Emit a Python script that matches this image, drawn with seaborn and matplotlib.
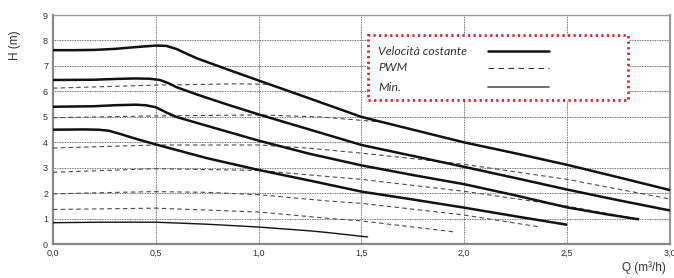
import matplotlib
matplotlib.use("Agg")
import matplotlib.pyplot as plt
import seaborn as sns
import pandas as pd
from matplotlib.patches import Rectangle
from matplotlib.lines import Line2D

# ---- data ----
q_c1 = [0.0, 0.1, 0.2, 0.3, 0.4, 0.5, 0.55, 0.6, 0.65, 0.7, 0.85, 1.0, 1.25, 1.5, 1.75, 2.0, 2.25, 2.5, 2.75, 3.0]
h_c1 = [7.62, 7.62, 7.63, 7.67, 7.74, 7.8, 7.79, 7.67, 7.48, 7.3, 6.86, 6.43, 5.72, 5.0, 4.5, 4.0, 3.57, 3.12, 2.63, 2.13]

q_c2 = [0.0, 0.2, 0.3, 0.4, 0.47, 0.52, 0.56, 0.6, 0.7, 0.85, 1.0, 1.25, 1.5, 1.75, 2.0, 2.25, 2.5, 2.75, 3.0]
h_c2 = [6.45, 6.46, 6.49, 6.51, 6.5, 6.45, 6.33, 6.17, 5.88, 5.48, 5.1, 4.5, 3.9, 3.47, 3.04, 2.6, 2.15, 1.73, 1.33]

q_c3 = [0.0, 0.2, 0.3, 0.4, 0.45, 0.5, 0.55, 0.6, 0.75, 1.0, 1.25, 1.5, 1.75, 2.0, 2.25, 2.5, 2.7, 2.85]
h_c3 = [5.4, 5.42, 5.46, 5.48, 5.46, 5.38, 5.18, 5.0, 4.65, 4.07, 3.55, 3.1, 2.72, 2.36, 1.92, 1.45, 1.17, 0.98]

q_c4 = [0.0, 0.15, 0.22, 0.27, 0.32, 0.4, 0.5, 0.75, 1.0, 1.25, 1.5, 1.75, 2.0, 2.25, 2.5]
h_c4 = [4.5, 4.51, 4.5, 4.46, 4.35, 4.15, 3.92, 3.38, 2.92, 2.5, 2.07, 1.76, 1.44, 1.1, 0.77]

q_min = [0.0, 0.25, 0.5, 0.75, 1.0, 1.25, 1.34, 1.53]
h_min = [0.85, 0.87, 0.87, 0.79, 0.68, 0.53, 0.46, 0.29]

q_d1 = [0.0, 0.5, 0.9, 1.06]
h_d1 = [6.13, 6.25, 6.3, 6.28]

q_d2 = [0.0, 0.5, 1.0, 1.3, 1.6]
h_d2 = [4.97, 5.04, 5.08, 5.0, 4.8]

q_d3 = [0.0, 0.5, 1.0, 1.25, 1.5, 1.88, 2.0, 2.5, 3.0]
h_d3 = [3.78, 3.9, 3.9, 3.77, 3.58, 3.25, 3.14, 2.55, 1.78]

q_d4 = [0.0, 0.5, 1.0, 1.34, 1.5, 2.0, 2.5, 2.85]
h_d4 = [2.83, 2.97, 2.9, 2.66, 2.55, 2.08, 1.5, 0.98]

q_d5 = [0.0, 0.25, 0.5, 0.75, 1.0, 1.34, 1.5, 2.0, 2.37]
h_d5 = [1.98, 2.03, 2.07, 2.04, 1.95, 1.7, 1.61, 1.15, 0.68]

q_d6 = [0.0, 0.5, 1.0, 1.34, 1.5, 1.96]
h_d6 = [1.37, 1.42, 1.27, 1.02, 0.92, 0.48]

x_ticks = [0.0, 0.5, 1.0, 1.5, 2.0, 2.5, 3.0]
x_tick_labels = ["0,0", "0,5", "1,0", "1,5", "2,0", "2,5", "3,0"]
y_ticks = [0, 1, 2, 3, 4, 5, 6, 7, 8, 9]
legend_labels = ["Velocità costante", "PWM", "Min."]

# ---- styling ----
sns.set_style("white")
plt.rcParams["font.family"] = ["Liberation Sans", "DejaVu Sans"]

fig = plt.figure(figsize=(6.74, 2.78), dpi=100)
ax = fig.add_axes([0.0786, 0.121, 0.9154, 0.825])

solid_sets = [(q_c1, h_c1), (q_c2, h_c2), (q_c3, h_c3), (q_c4, h_c4)]
dash_sets = [(q_d1, h_d1), (q_d2, h_d2), (q_d3, h_d3), (q_d4, h_d4), (q_d5, h_d5), (q_d6, h_d6)]

for q, h in dash_sets:
    sns.lineplot(x=q, y=h, ax=ax, sort=False, estimator=None, color="#4a4a4a",
                 linewidth=0.8, linestyle=(0, (4, 3)), zorder=3)
for q, h in solid_sets:
    sns.lineplot(x=q, y=h, ax=ax, sort=False, estimator=None, color="#111111",
                 linewidth=1.8, zorder=4, solid_capstyle="butt")
sns.lineplot(x=q_min, y=h_min, ax=ax, sort=False, estimator=None, color="#111111",
             linewidth=1.0, zorder=4)

ax.set_xlim(0, 3)
ax.set_ylim(0, 9)
ax.set_xticks(x_ticks)
ax.set_xticklabels(x_tick_labels)
ax.set_yticks(y_ticks)
ax.tick_params(axis="both", labelsize=6.5, labelcolor="#333333", color="#777777",
               length=3, width=0.8, direction="inout", pad=2)
ax.grid(True, color="#444444", linestyle=(0, (1, 1)), linewidth=0.6)
ax.set_axisbelow(True)

for side in ["left", "bottom"]:
    ax.spines[side].set_color("#888888")
    ax.spines[side].set_linewidth(1.6)
for side in ["top", "right"]:
    ax.spines[side].set_color("#999999")
    ax.spines[side].set_linewidth(1.0)
ax.spines["right"].set_linewidth(1.6)

ax.set_ylabel("H (m)", fontsize=8.5, color="#333333")
ax.yaxis.set_label_coords(-0.052, 0.87)
ax.set_xlabel("Q (m³/h)", fontsize=8.5, color="#333333")
ax.xaxis.set_label_coords(0.958, -0.072)

# ---- legend box ----
box = Rectangle((0.511, 0.629), 0.421, 0.284, transform=ax.transAxes, fill=True,
                facecolor="white", edgecolor="#e0202a", linewidth=2.0,
                linestyle=(0, (0.8, 1.2)), zorder=6)
ax.add_patch(box)
ys = [0.842, 0.769, 0.686]
styles = [dict(color="#111111", linewidth=1.8),
          dict(color="#333333", linewidth=0.8, linestyle=(0, (5, 4))),
          dict(color="#555555", linewidth=1.2)]
for lab, yy, st in zip(legend_labels, ys, styles):
    ax.text(0.527, yy, lab, transform=ax.transAxes, fontsize=8.8, style="italic",
            family=["Lato", "DejaVu Sans"], color="#333333", va="center", ha="left", zorder=7)
    ax.add_line(Line2D([0.705, 0.804], [yy, yy], transform=ax.transAxes, zorder=7, **st))

fig.savefig("out.png", dpi=100)
